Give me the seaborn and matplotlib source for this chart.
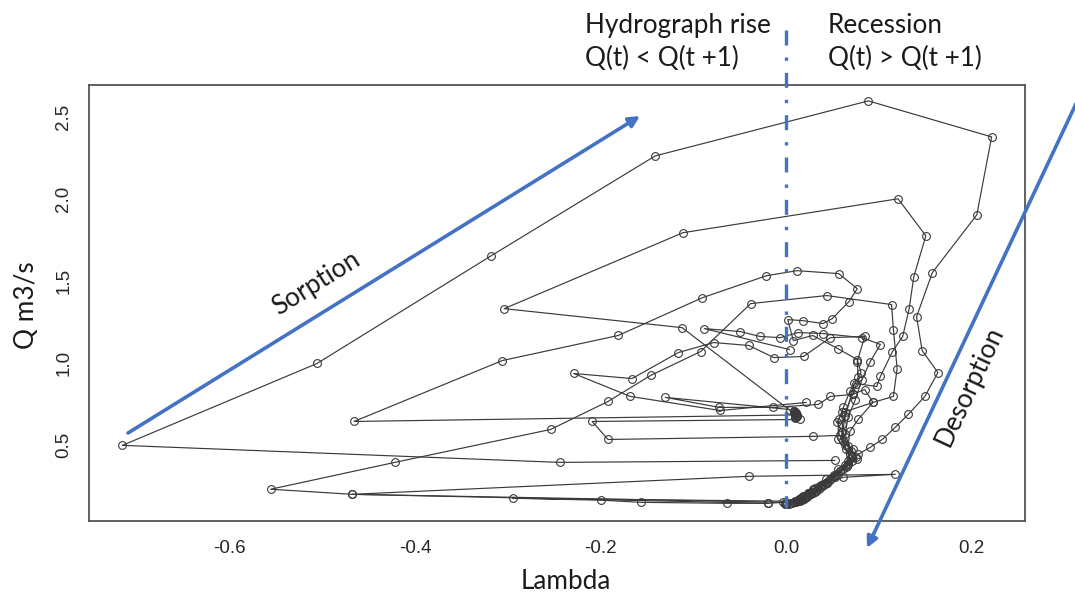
import numpy as np
import pandas as pd
import matplotlib
matplotlib.use("Agg")
import matplotlib.pyplot as plt
import seaborn as sns
from matplotlib.patches import FancyArrowPatch
from matplotlib import font_manager

# ---- hysteresis events: lambda vs discharge Q (m3/s), in time order ----
ev1_lambda = [0.053, -0.244, -0.716, -0.506, -0.318, -0.141, 0.089, 0.222, 0.206, 0.158,
              0.141, 0.147, 0.164, 0.150, 0.132, 0.118, 0.104, 0.091, 0.078, 0.067,
              0.056, 0.043, 0.031, 0.021, 0.012]
ev1_q = [0.402, 0.390, 0.494, 0.994, 1.652, 2.262, 2.598, 2.378, 1.902, 1.549,
         1.280, 1.073, 0.939, 0.793, 0.683, 0.604, 0.530, 0.482, 0.439, 0.378,
         0.317, 0.262, 0.213, 0.177, 0.152]

ev2_lambda = [0.010, 0.011, 0.009, 0.012, -0.466, -0.306, -0.181, -0.090, -0.021, 0.012,
              0.057, 0.077, 0.068, 0.050, 0.040, 0.018, 0.002, 0.008, 0.029, 0.056,
              0.077, 0.081, 0.076, 0.072, 0.064, 0.061, 0.062, 0.072, 0.071, 0.066,
              0.058, 0.048, 0.035, 0.024, 0.013]
ev2_q = [0.665, 0.690, 0.705, 0.680, 0.640, 1.012, 1.165, 1.396, 1.530, 1.561,
         1.543, 1.451, 1.372, 1.268, 1.238, 1.256, 1.262, 1.134, 1.165, 1.085,
         1.018, 0.939, 0.866, 0.805, 0.695, 0.622, 0.518, 0.470, 0.427, 0.366,
         0.335, 0.287, 0.238, 0.195, 0.159]

ev3_lambda = [-0.019, -0.468, -0.556, -0.422, -0.254, -0.192, -0.146, -0.092, -0.038, 0.044,
              0.114, 0.116, 0.120, 0.116, 0.094, 0.061, 0.055, 0.061, 0.071, 0.077,
              0.066, 0.053, 0.039, 0.026, 0.015]
ev3_q = [0.140, 0.195, 0.226, 0.390, 0.591, 0.762, 0.921, 1.067, 1.360, 1.409,
         1.354, 1.201, 0.963, 0.793, 0.756, 0.695, 0.634, 0.573, 0.427, 0.409,
         0.366, 0.299, 0.250, 0.201, 0.165]

ev4_lambda = [0.010, -0.112, -0.304, -0.111, 0.121, 0.151, 0.138, 0.133, 0.126, 0.115,
              0.102, 0.098, 0.074, 0.064, 0.061, 0.064, 0.067, 0.058, 0.044, 0.029,
              0.019, 0.010]
ev4_q = [0.683, 1.213, 1.329, 1.793, 2.000, 1.774, 1.524, 1.329, 1.159, 1.067,
         0.915, 0.854, 0.872, 0.671, 0.573, 0.494, 0.378, 0.335, 0.268, 0.226,
         0.183, 0.152]

ev5_lambda = [0.015, -0.209, -0.192, 0.029, 0.058, 0.065, 0.071, 0.062, 0.051, 0.037,
              0.024, 0.014]
ev5_q = [0.652, 0.640, 0.530, 0.549, 0.555, 0.470, 0.396, 0.348, 0.299, 0.244,
         0.201, 0.165]

ev6_lambda = [0.022, -0.071, -0.168, -0.229, -0.166, -0.116, -0.078, -0.040, -0.013, 0.019,
              0.048, 0.085, 0.077, 0.078, 0.069, 0.062, 0.057, 0.056, 0.069, 0.067,
              0.056, 0.043, 0.031, 0.018]
ev6_q = [0.756, 0.707, 0.793, 0.933, 0.902, 1.061, 1.122, 1.104, 1.030, 1.037,
         1.152, 1.159, 1.006, 0.909, 0.823, 0.726, 0.652, 0.530, 0.439, 0.396,
         0.348, 0.287, 0.232, 0.183]

ev7_lambda = [0.004, -0.130, -0.072, -0.014, 0.035, 0.048, 0.072, 0.085, 0.094, 0.078,
              0.069, 0.067, 0.076, 0.065, 0.054, 0.040, 0.027, 0.016]
ev7_q = [0.713, 0.787, 0.726, 0.726, 0.744, 0.793, 0.805, 0.835, 0.756, 0.652,
         0.579, 0.488, 0.421, 0.360, 0.311, 0.256, 0.207, 0.171]

ev8_lambda = [0.004, -0.088, -0.049, -0.028, -0.006, 0.013, 0.040, 0.082, 0.102, 0.091,
              0.082, 0.075, 0.067, 0.064, 0.070, 0.064, 0.052, 0.038, 0.025, 0.015]
ev8_q = [1.079, 1.207, 1.189, 1.159, 1.152, 1.183, 1.177, 1.152, 1.110, 1.006,
         0.896, 0.774, 0.665, 0.561, 0.457, 0.372, 0.311, 0.250, 0.201, 0.159]

ev9_lambda = [0.015, -0.295, -0.199, -0.156, -0.064, -0.019, -0.003]
ev9_q = [0.152, 0.171, 0.159, 0.146, 0.140, 0.140, 0.146]

ev10_lambda = [0.000, -0.468, -0.040, 0.118, 0.062, 0.044, 0.029, 0.017]
ev10_q = [0.146, 0.195, 0.305, 0.317, 0.299, 0.262, 0.220, 0.177]

# baseflow recession tail and the steady low-flow cluster
base_lambda = [0.048, 0.044, 0.041, 0.038, 0.036, 0.033, 0.031, 0.029, 0.027, 0.025,
               0.023, 0.021, 0.019, 0.017, 0.015, 0.013, 0.011, 0.009, 0.007, 0.005,
               0.003, 0.001, 0.000, -0.001]
base_q = [0.280, 0.262, 0.250, 0.238, 0.228, 0.218, 0.210, 0.202, 0.195, 0.188,
          0.181, 0.175, 0.169, 0.163, 0.158, 0.153, 0.149, 0.145, 0.142, 0.139,
          0.137, 0.135, 0.134, 0.133]
plateau_lambda = [0.009, 0.010, 0.011, 0.010, 0.012, 0.011, 0.010, 0.009, 0.011, 0.012]
plateau_q = [0.705, 0.698, 0.690, 0.683, 0.676, 0.670, 0.664, 0.700, 0.688, 0.672]

x_ticks = [-0.6, -0.4, -0.2, 0.0, 0.2]
y_ticks = [0.5, 1.0, 1.5, 2.0, 2.5]
x_label = "Lambda"
y_label = "Q m3/s"

series = [
    ("e1", ev1_lambda, ev1_q), ("e2", ev2_lambda, ev2_q), ("e3", ev3_lambda, ev3_q),
    ("e4", ev4_lambda, ev4_q), ("e5", ev5_lambda, ev5_q), ("e6", ev6_lambda, ev6_q),
    ("e7", ev7_lambda, ev7_q), ("e8", ev8_lambda, ev8_q), ("e9", ev9_lambda, ev9_q),
    ("e10", ev10_lambda, ev10_q), ("base", base_lambda, base_q),
    ("plateau", plateau_lambda, plateau_q),
]
frames = []
for name, lam, q in series:
    frames.append(pd.DataFrame({"lam": lam, "q": q, "event": name,
                                "step": np.arange(len(lam))}))
df = pd.concat(frames, ignore_index=True)

# ---- style ----
sns.set_theme(style="white")
plt.rcParams["font.family"] = ["Lato", "DejaVu Sans"]
names = {f.name for f in font_manager.fontManager.ttflist}
tick_family = "Liberation Sans Narrow" if "Liberation Sans Narrow" in names else "Liberation Sans"

W, H = 1075, 594
fig = plt.figure(figsize=(W / 100, H / 100), dpi=100)
ax = fig.add_axes([89 / W, 1 - 521 / H, (1025 - 89) / W, (521 - 85) / H])

ink = "#3a3a3a"
sns.lineplot(data=df, x="lam", y="q", units="event", estimator=None, sort=False,
             color=ink, lw=0.85, marker="o", markersize=5.6, markerfacecolor="none",
             markeredgecolor=ink, markeredgewidth=0.8, ax=ax, legend=False)

ax.set_xlim(-0.752, 0.258)
ax.set_ylim(0.032, 2.695)
ax.set_xticks(x_ticks)
ax.set_xticklabels([f"{v:.1f}" for v in x_ticks], family=tick_family, fontsize=13.5,
                   color="#262626")
ax.set_yticks(y_ticks)
ax.set_yticklabels([f"{v:.1f}" for v in y_ticks], family=tick_family, fontsize=13.5,
                   color="#262626", rotation=90, va="center")
ax.tick_params(axis="x", direction="out", length=6, width=1.0, color="#555555", pad=8)
ax.tick_params(axis="y", direction="out", length=6, width=1.0, color="#555555", pad=6)
for s in ax.spines.values():
    s.set_visible(True)
    s.set_color("#555555")
    s.set_linewidth(1.3)
ax.set_xlabel("")
ax.set_ylabel("")

def fx(px):
    return px / W

def fy(py):
    return 1 - py / H

blue = "#4472C4"
txt = "#1a1a1a"
fs = 18.8

fig.text(fx(566), fy(589), x_label, ha="center", va="baseline", fontsize=fs, color=txt)
fig.text(fx(26), fy(305), y_label, ha="center", va="center", rotation=90,
         fontsize=fs, color=txt, rotation_mode="anchor")

# phase divider at lambda = 0
fig.add_artist(plt.Line2D([fx(786), fx(786)], [fy(30), fy(508)], color=blue, lw=2.4,
                          linestyle=(0, (4.5, 3.6, 1.0, 3.6))))

fig.text(fx(585), fy(33), "Hydrograph rise", ha="left", va="baseline", fontsize=fs, color=txt)
fig.text(fx(585), fy(66), "Q(t) < Q(t +1)", ha="left", va="baseline", fontsize=fs, color=txt)
fig.text(fx(828), fy(33), "Recession", ha="left", va="baseline", fontsize=fs, color=txt)
fig.text(fx(828), fy(66), "Q(t) > Q(t +1)", ha="left", va="baseline", fontsize=fs, color=txt)

# sorption / desorption arrows
fig.add_artist(FancyArrowPatch((fx(128), fy(433)), (fx(640), fy(116)),
                               transform=fig.transFigure, arrowstyle="-|>",
                               mutation_scale=16, lw=2.6, color=blue,
                               shrinkA=0, shrinkB=0))
fig.add_artist(FancyArrowPatch((fx(1082), fy(91)), (fx(867), fy(548)),
                               transform=fig.transFigure, arrowstyle="-|>",
                               mutation_scale=16, lw=2.6, color=blue,
                               shrinkA=0, shrinkB=0))
fig.text(fx(316), fy(283), "Sorption", ha="center", va="center", rotation=32,
         rotation_mode="anchor", fontsize=fs, color=txt)
fig.text(fx(970), fy(386), "Desorption", ha="center", va="center", rotation=65,
         rotation_mode="anchor", fontsize=fs, color=txt)

fig.savefig("out.png", dpi=100)
